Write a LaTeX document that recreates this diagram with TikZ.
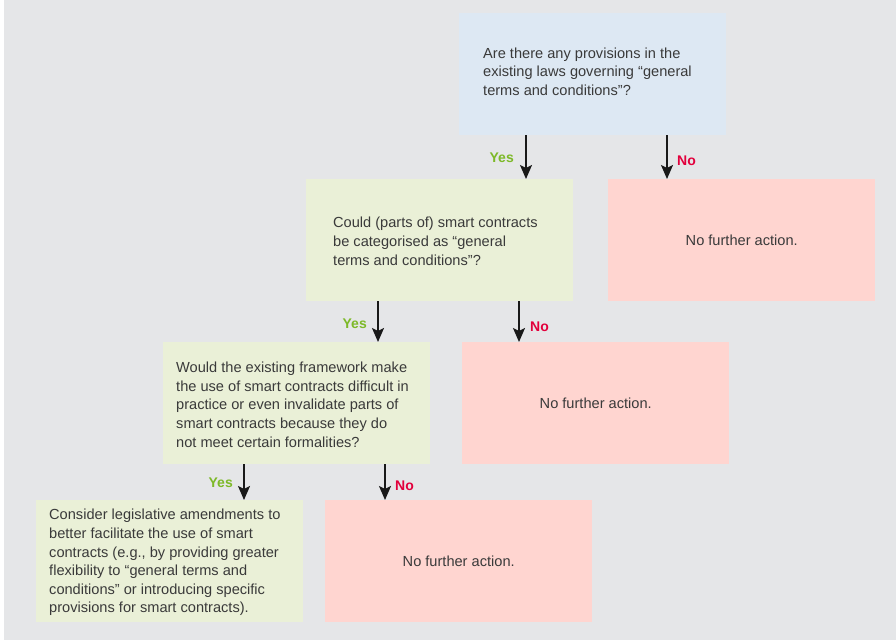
\documentclass[tikz,border=0pt]{standalone}
\usepackage{fontspec}
\setmainfont{Liberation Sans}
\usetikzlibrary{arrows.meta}

\definecolor{pagebg}{HTML}{E5E6E8}
\definecolor{qblue}{HTML}{DDE8F3}
\definecolor{qgreen}{HTML}{EAF0D7}
\definecolor{endred}{HTML}{FFD5D0}
\definecolor{bodytext}{HTML}{3A3A3A}
\definecolor{yesgreen}{HTML}{7DB928}
\definecolor{nored}{HTML}{E2003C}

\tikzset{
  box/.style={rectangle, draw=none, inner sep=0pt, anchor=north west,
    minimum width=267pt, minimum height=122pt},
  question/.style={box, fill=qgreen},
  stopbox/.style={box, fill=endred},
  qtext/.style={anchor=west, inner sep=0pt, align=left, text=bodytext,
    font=\fontsize{14.6}{18.6}\selectfont},
  arr/.style={line width=1.7pt, black!90,
    -{Stealth[length=14pt, width=12pt, inset=3pt]}},
  yeslbl/.style={anchor=base east, inner sep=0pt, text=yesgreen,
    font=\fontsize{14}{16}\selectfont\bfseries},
  nolbl/.style={anchor=base west, inner sep=0pt, text=nored,
    font=\fontsize{14}{16}\selectfont\bfseries},
}

\begin{document}
\begin{tikzpicture}[x=1pt, y=-1pt]
\useasboundingbox (0,0) rectangle (896,641);
\fill[pagebg] (4,0) rectangle (896,640);

% decision boxes
\node[box, fill=qblue] (q1) at (459,13) {};
\node[question] (q2) at (306,179) {};
\node[question] (q3) at (163,342) {};
\node[question] (q4) at (36,500) {};

% end boxes
\node[stopbox] (n1) at (608,179) {};
\node[stopbox] (n2) at (462,342) {};
\node[stopbox] (n3) at (325,500) {};

% texts
\node[qtext] (t1) at ([xshift=24pt, yshift=2.5pt]q1.west)
  {Are there any provisions in the\\existing laws governing “general\\terms and conditions”?};
\node[qtext] (t2) at ([xshift=27pt, yshift=-1pt]q2.west)
  {Could (parts of) smart contracts\\be categorised as “general\\terms and conditions”?};
\node[qtext] (t3) at ([xshift=13pt, yshift=-1.5pt]q3.west)
  {Would the existing framework make\\the use of smart contracts difficult in\\practice or even invalidate parts of\\smart contracts because they do\\not meet certain formalities?};
\node[qtext] (t4) at ([xshift=13pt, yshift=-1.5pt]q4.west)
  {Consider legislative amendments to\\better facilitate the use of smart\\contracts (e.g., by providing greater\\flexibility to “general terms and\\conditions” or introducing specific\\provisions for smart contracts).};
\node[qtext, anchor=center] (e1) at (n1.center) {No further action.};
\node[qtext, anchor=center] (e2) at (n2.center) {No further action.};
\node[qtext, anchor=center] (e3) at (n3.center) {No further action.};

% level 1 arrows
\coordinate (y1) at ([xshift=67pt]q1.south west);
\coordinate (o1) at ([xshift=208pt]q1.south west);
\draw[arr] (y1) -- (y1 |- q2.north);
\draw[arr] (o1) -- (o1 |- n1.north);
\node[yeslbl] (ly1) at ([xshift=-12pt, yshift=-27.5pt]y1) {Yes};
\node[nolbl] (ln1) at ([xshift=10pt, yshift=-30pt]o1) {No};

% level 2 arrows
\coordinate (y2) at ([xshift=72pt]q2.south west);
\coordinate (o2) at ([xshift=213pt]q2.south west);
\draw[arr] (y2) -- (y2 |- q3.north);
\draw[arr] (o2) -- (o2 |- n2.north);
\node[yeslbl] (ly2) at ([xshift=-11pt, yshift=-27.5pt]y2) {Yes};
\node[nolbl] (ln2) at ([xshift=11pt, yshift=-30pt]o2) {No};

% level 3 arrows
\coordinate (y3) at ([xshift=81pt]q3.south west);
\coordinate (o3) at ([xshift=222pt]q3.south west);
\draw[arr] (y3) -- (y3 |- q4.north);
\draw[arr] (o3) -- (o3 |- n3.north);
\node[yeslbl] (ly3) at ([xshift=-11pt, yshift=-23.5pt]y3) {Yes};
\node[nolbl] (ln3) at ([xshift=10pt, yshift=-26pt]o3) {No};
\end{tikzpicture}
\end{document}
